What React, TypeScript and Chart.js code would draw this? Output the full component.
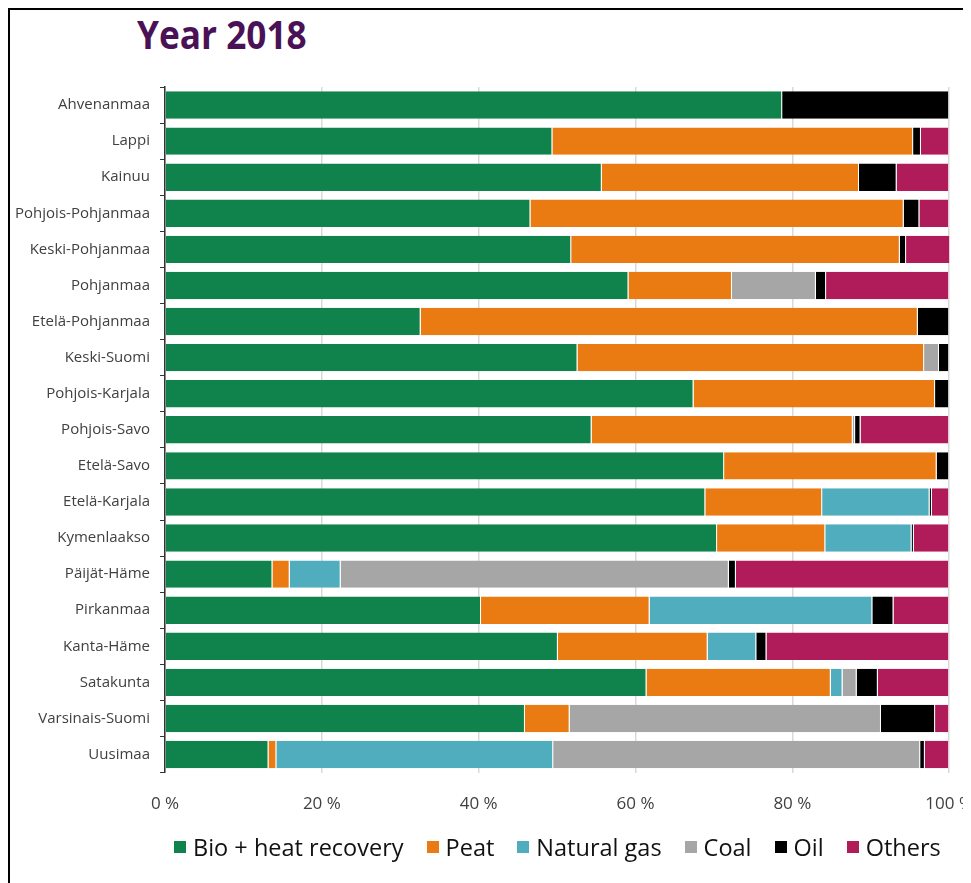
import React, { useEffect, useRef } from "react";
import { Chart, registerables } from "chart.js";

Chart.register(...registerables);

const regions = [
  "Ahvenanmaa", "Lappi", "Kainuu", "Pohjois-Pohjanmaa", "Keski-Pohjanmaa", "Pohjanmaa",
  "Etelä-Pohjanmaa", "Keski-Suomi", "Pohjois-Karjala", "Pohjois-Savo", "Etelä-Savo",
  "Etelä-Karjala", "Kymenlaakso", "Päijät-Häme", "Pirkanmaa", "Kanta-Häme",
  "Satakunta", "Varsinais-Suomi", "Uusimaa",
];

const bio = [78.7, 49.4, 55.7, 46.6, 51.8, 59.1, 32.6, 52.6, 67.4, 54.4, 71.3, 68.9, 70.4, 13.7, 40.3, 50.1, 61.4, 45.9, 13.2];
const peat = [0, 46.0, 32.8, 47.6, 41.9, 13.2, 63.4, 44.2, 30.8, 33.3, 27.1, 14.9, 13.8, 2.2, 21.5, 19.1, 23.5, 5.7, 1.0];
const naturalGas = [0, 0, 0, 0, 0, 0, 0, 0, 0, 0, 0, 13.7, 11.0, 6.5, 28.4, 6.2, 1.5, 0, 35.3];
const coal = [0, 0, 0, 0, 0, 10.7, 0, 1.9, 0, 0.3, 0, 0, 0, 49.5, 0, 0, 1.8, 39.7, 46.8];
const oil = [21.3, 1.0, 4.8, 2.0, 0.8, 1.3, 4.0, 1.3, 1.8, 0.7, 1.6, 0.3, 0.3, 0.9, 2.7, 1.3, 2.7, 6.9, 0.6];
const others = [0, 3.6, 6.7, 3.8, 5.7, 15.7, 0, 0, 0, 11.3, 0, 2.2, 4.5, 27.2, 7.1, 23.3, 9.1, 1.8, 3.1];

const seriesNames = ["Bio + heat recovery", "Peat", "Natural gas", "Coal", "Oil", "Others"];
const seriesColors = ["#10834C", "#EA7A12", "#4FADBD", "#A6A6A6", "#000000", "#B01C59"];
const seriesValues = [bio, peat, naturalGas, coal, oil, others];

const xTicks = [0, 20, 40, 60, 80, 100];

const FONT = "'Open Sans', sans-serif";

export default function App() {
  const canvasRef = useRef<HTMLCanvasElement | null>(null);

  useEffect(() => {
    const ctx = canvasRef.current;
    if (!ctx) return;
    const chart = new Chart(ctx, {
      type: "bar",
      data: {
        labels: regions,
        datasets: seriesNames.map((name, i) => ({
          label: name,
          data: seriesValues[i],
          backgroundColor: seriesColors[i],
          borderColor: "rgba(255,255,255,0.75)",
          borderWidth: { right: 1, left: 0, top: 0, bottom: 0 },
          borderSkipped: false,
          barPercentage: 0.76,
          categoryPercentage: 1,
        })),
      },
      options: {
        indexAxis: "y",
        animation: false,
        responsive: false,
        maintainAspectRatio: false,
        layout: { padding: { top: 77, right: 0, left: 0, bottom: 0 } },
        plugins: {
          legend: { display: false },
          title: { display: false },
          tooltip: { enabled: false },
        },
        scales: {
          x: {
            stacked: true,
            min: 0,
            max: 100,
            afterBuildTicks: (scale: any) => {
              scale.ticks = xTicks.map((v) => ({ value: v }));
            },
            ticks: {
              callback: (v: any) => `${v} %`,
              color: "#404040",
              font: { family: FONT, size: 17 },
              padding: 21,
              maxRotation: 0,
            },
            grid: { color: "#d9d9d9", lineWidth: 1.5, drawTicks: false },
            border: { display: false },
          },
          y: {
            stacked: true,
            afterFit: (scale: any) => {
              scale.width = 155;
            },
            ticks: {
              color: "#404040",
              font: { family: FONT, size: 15 },
              padding: 10,
            },
            grid: { drawOnChartArea: false, tickLength: 5, color: "#333", offset: true },
            border: { display: true, color: "#333", width: 1.5 },
          },
        },
      },
    });
    return () => chart.destroy();
  }, []);

  return (
    <div
      style={{
        position: "relative",
        width: 963,
        height: 875,
        borderTop: "2px solid #000",
        borderLeft: "2px solid #000",
        boxSizing: "border-box",
        overflow: "hidden",
        background: "#fff",
      }}
    >
      <div
        style={{
          position: "absolute",
          left: 127,
          top: -3,
          fontFamily: FONT,
          fontWeight: "bold",
          fontSize: 40,
          color: "#4A1256",
          lineHeight: "54px",
          transform: "scaleX(0.88)",
          transformOrigin: "left center",
          whiteSpace: "nowrap",
        }}
      >
        Year 2018
      </div>
      <canvas
        ref={canvasRef}
        width={984}
        height={825}
        style={{ position: "absolute", left: 0, top: 0, width: 984, height: 825 }}
      />
      <div
        style={{
          position: "absolute",
          left: 164,
          top: 821,
          display: "flex",
          alignItems: "center",
          fontFamily: FONT,
          fontSize: 23.5,
          color: "#111",
          whiteSpace: "nowrap",
        }}
      >
        {seriesNames.map((name, i) => (
          <div key={name} style={{ display: "flex", alignItems: "center", marginRight: 23 }}>
            <span
              style={{
                display: "inline-block",
                width: 12,
                height: 12,
                background: seriesColors[i],
                marginRight: 7,
              }}
            />
            <span>{name}</span>
          </div>
        ))}
      </div>
    </div>
  );
}
